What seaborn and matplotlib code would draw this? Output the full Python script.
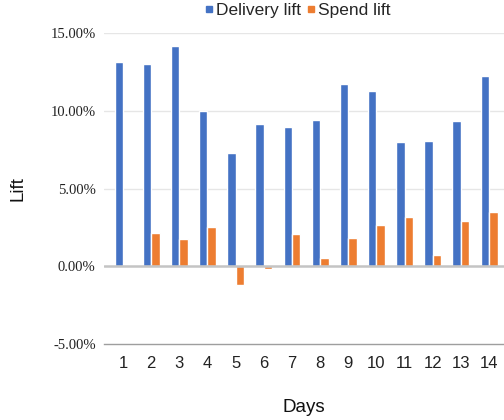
import matplotlib
matplotlib.use("Agg")
import matplotlib.pyplot as plt
import seaborn as sns
import pandas as pd
from matplotlib.ticker import FuncFormatter
from matplotlib.lines import Line2D

days = [str(d) for d in range(1, 15)]
delivery_lift = [13.15, 12.99, 14.19, 9.98, 7.26, 9.12, 8.95, 9.40, 11.70, 11.25, 7.98, 8.03, 9.32, 12.25]
spend_lift = [0.05, 2.17, 1.74, 2.51, -1.22, -0.17, 2.10, 0.50, 1.80, 2.68, 3.17, 0.73, 2.88, 3.52]
series_names = ["Delivery lift", "Spend lift"]
colors = ["#4472C4", "#ED7D31"]

df = pd.DataFrame({
    "Days": days * 2,
    "Lift": delivery_lift + spend_lift,
    "Series": [series_names[0]] * len(days) + [series_names[1]] * len(days),
})

sns.set_theme(style="white")
plt.rcParams["font.family"] = ["Liberation Sans", "DejaVu Sans"]

fig = plt.figure(figsize=(5.04, 4.2), dpi=100)
ax = fig.add_axes([104 / 504, 1 - 344 / 420, 1 - 104 / 504, (344 - 33) / 420])

sns.barplot(data=df, x="Days", y="Lift", hue="Series", palette=colors,
            width=0.6, order=days, hue_order=series_names, ax=ax,
            saturation=1, legend=False, errorbar=None)

ax.set_ylim(-5, 15)
ax.set_xlim(-0.675, 13.53)
ax.set_yticks([-5, 0, 5, 10, 15])
ax.yaxis.set_major_formatter(FuncFormatter(lambda v, p: f"{v:.2f}%"))
for lab in ax.get_yticklabels():
    lab.set_fontfamily("Liberation Serif")
    lab.set_fontsize(10.5)
ax.tick_params(axis="y", length=0, pad=6, colors="#222222")
ax.tick_params(axis="x", length=4, direction="inout", color="#9e9e9e", pad=7,
               labelsize=12, labelcolor="#222222", width=0.8)

for v in [5, 10, 15]:
    ax.axhline(v, color="#e6e6e6", lw=1, zorder=0)
ax.axhline(0, color="#c4c4c4", lw=1.8, zorder=3)

for s in ["left", "right", "top"]:
    ax.spines[s].set_visible(False)
ax.spines["bottom"].set_color("#9e9e9e")
ax.spines["bottom"].set_linewidth(1)

ax.set_xlabel("Days", fontsize=13.5, labelpad=20, color="#111111")
ax.set_ylabel("Lift", fontsize=13.5, labelpad=17, color="#111111")

handles = [Line2D([], [], marker="s", linestyle="none", markersize=4,
                  markerfacecolor=c, markeredgecolor=c) for c in colors]
fig.legend(handles, series_names, loc="center", bbox_to_anchor=(297 / 504, 1 - 10 / 420),
           ncol=2, frameon=False, fontsize=12.5, handletextpad=0.1, columnspacing=0.3,
           handlelength=0.6, borderpad=0)

fig.savefig("out.png", dpi=100)
